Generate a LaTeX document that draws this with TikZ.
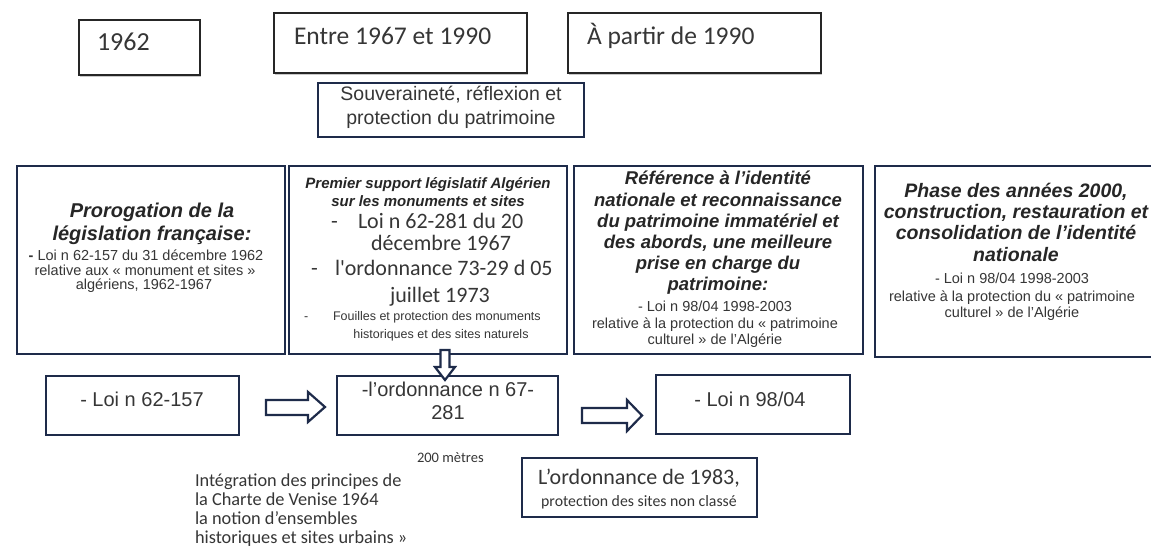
\documentclass[tikz,border=0pt]{standalone}
\usepackage{fontspec}
\setmainfont{Liberation Sans}
\newfontfamily\calib{Carlito}
\usetikzlibrary{shadows}
\definecolor{navy}{HTML}{1E2B4A}
\definecolor{txt}{HTML}{363636}
\definecolor{hd}{HTML}{262626}
\tikzset{
  bx/.style={draw=navy, line width=2.6pt, fill=white, inner sep=0pt, outer sep=0pt},
  topbx/.style={draw=black!85, line width=1.6pt, fill=white, inner sep=0pt, outer sep=0pt,
     drop shadow={shadow xshift=1.2pt, shadow yshift=-1.6pt, fill=black!35, opacity=.6}},
  arr/.style={draw=navy, line width=2.2pt, fill=white, line join=miter},
  tl/.style={inner sep=0pt, outer sep=0pt, anchor=mid, text=txt},
  tw/.style={inner sep=0pt, outer sep=0pt, anchor=mid west, text=txt},
  hbi/.style={tl, text=hd, font=\bfseries\itshape\fontsize{#1}{#1}\selectfont},
  ar/.style={font=\fontsize{#1}{#1}\selectfont},
  cb/.style={font=\calib\fontsize{#1}{#1}\selectfont},
}
\begin{document}
\begin{tikzpicture}[x=1pt,y=-1pt]
\useasboundingbox (0,0) rectangle (1151,554);
\fill[white] (0,0) rectangle (1151,554);

% ---------- top boxes ----------
\node[topbx, minimum width=121pt, minimum height=55pt] (t1962) at (139.5,47.5) {};
\node[topbx, minimum width=253pt, minimum height=60pt] (tentre) at (400.5,43) {};
\node[topbx, minimum width=253pt, minimum height=60pt] (tapres) at (694.5,43) {};
\node[tw, cb=26] (t1962t) at (97,48) {1962};
\node[tw, cb=25.5] (tentret) at (294,42) {Entre 1967 et 1990};
\node[tw, cb=25.5] (tapret) at (587,42) {À partir de 1990};

\node[bx, minimum width=266pt, minimum height=54pt] (souv) at (451,110) {};
\node[tl, ar=19.5] (souv1) at (451,98) {Souveraineté, réflexion et};
\node[tl, ar=19.5] (souv2) at (451,122) {protection du patrimoine};

% ---------- big boxes ----------
\node[bx, minimum width=268pt, minimum height=188pt] (b1) at (151,260) {};
\node[bx, minimum width=278pt, minimum height=188pt] (b2) at (428,260) {};
\node[bx, minimum width=289pt, minimum height=188pt] (b3) at (718.5,260) {};
\node[bx, minimum width=290pt, minimum height=191pt] (b4) at (1020,261.5) {};

% box 1
\node[hbi=20] (b1a) at (152,215) {Prorogation de la};
\node[hbi=20] (b1b) at (152,238) {législation française:};
\node[tl, ar=14.5] (b1c) at (146,258) {{\bfseries -} Loi n 62-157 du 31 décembre 1962};
\node[tl, ar=14.5] (b1d) at (145,273) {relative aux « monument et sites »};
\node[tl, ar=14.5] (b1e) at (144,287) {algériens, 1962-1967};

% box 2
\node[hbi=15] (b2a) at (428,186) {Premier support législatif Algérien};
\node[hbi=15] (b2b) at (428,204) {sur les monuments et sites};
\node[tw, cb=22] (b2c0) at (331,226) {-};
\node[tw, cb=22] (b2c) at (358,226) {Loi n 62-281 du 20};
\node[tl, cb=22] (b2d) at (441,248) {décembre 1967};
\node[tw, cb=22] (b2e0) at (311,273) {-};
\node[tw, cb=22] (b2e) at (335,273) {l'ordonnance 73-29 d 05};
\node[tl, cb=22] (b2f) at (440,300) {juillet 1973};
\node[tw, ar=12.5] (b2g0) at (304,318) {-};
\node[tw, ar=12.5] (b2g) at (333,318) {Fouilles et protection des monuments};
\node[tl, ar=12.5] (b2h) at (441,336) {historiques et des sites naturels};

% box 3
\node[hbi=18.5] (b3a) at (718,182) {Référence à l’identité};
\node[hbi=18.5] (b3b) at (718,204) {nationale et reconnaissance};
\node[hbi=18.5] (b3c) at (718,225) {du patrimoine immatériel et};
\node[hbi=18.5] (b3d) at (718,246) {des abords, une meilleure};
\node[hbi=18.5] (b3e) at (718,267) {prise en charge du};
\node[hbi=18.5] (b3f) at (718,288) {patrimoine:};
\node[tl, ar=14.5] (b3g) at (715,309) {- Loi n 98/04 1998-2003};
\node[tl, ar=14.5] (b3h) at (715,326) {relative à la protection du « patrimoine};
\node[tl, ar=14.5] (b3i) at (715,342) {culturel » de l'Algérie};

% box 4
\node[hbi=19.5] (b4a) at (1016,195) {Phase des années 2000,};
\node[hbi=19.5] (b4b) at (1016,216) {construction, restauration et};
\node[hbi=19.5] (b4c) at (1016,237) {consolidation de l’identité};
\node[hbi=19.5] (b4d) at (1016,259) {nationale};
\node[tl, ar=14.5] (b4e) at (1012,281) {- Loi n 98/04 1998-2003};
\node[tl, ar=14.5] (b4f) at (1012,299) {relative à la protection du « patrimoine};
\node[tl, ar=14.5] (b4g) at (1012,315) {culturel » de l'Algérie};

% ---------- second row ----------
\node[bx, minimum width=193pt, minimum height=59pt] (r1) at (142.5,405.5) {};
\node[bx, minimum width=221pt, minimum height=59pt] (r2) at (447.5,405.5) {};
\node[bx, minimum width=194pt, minimum height=59pt] (r3) at (753,404.5) {};
\node[tl, ar=20] (r1t) at (142,404) {- Loi n 62-157};
\node[tl, ar=20] (r2t1) at (448,394) {-l'ordonnance n 67-};
\node[tl, ar=20] (r2t2) at (448,417) {281};
\node[tl, ar=20] (r3t) at (750,404) {- Loi n 98/04};

% block arrows
\draw[arr] (266,400) -- (308,400) -- (308,392) -- (325,407) -- (308,422) -- (308,415) -- (266,415) -- cycle;
\draw[arr] (582,408) -- (627,408) -- (627,400) -- (642,415.5) -- (627,431) -- (627,423) -- (582,423) -- cycle;
\draw[arr] (440.5,350) -- (449.5,350) -- (449.5,367) -- (455,367) -- (445,380) -- (435,367) -- (440.5,367) -- cycle;

% ---------- bottom ----------
\node[bx, minimum width=235pt, minimum height=59pt] (o83) at (639.5,487.5) {};
\node[tl, cb=22] (o83a) at (639,482) {L’ordonnance de 1983,};
\node[tl, cb=15.8] (o83b) at (639,504) {protection des sites non classé};

\node[tw, cb=14.5] (m200) at (417,460) {200 mètres};
\node[tw, cb=18.3] (int1) at (195,484) {Intégration des principes de};
\node[tw, cb=18.3] (int2) at (195,503) {la Charte de Venise 1964};
\node[tw, cb=18.3] (int3) at (195,522) {la notion d’ensembles};
\node[tw, cb=18.3] (int4) at (195,541) {historiques et sites urbains »};
\end{tikzpicture}
\end{document}
